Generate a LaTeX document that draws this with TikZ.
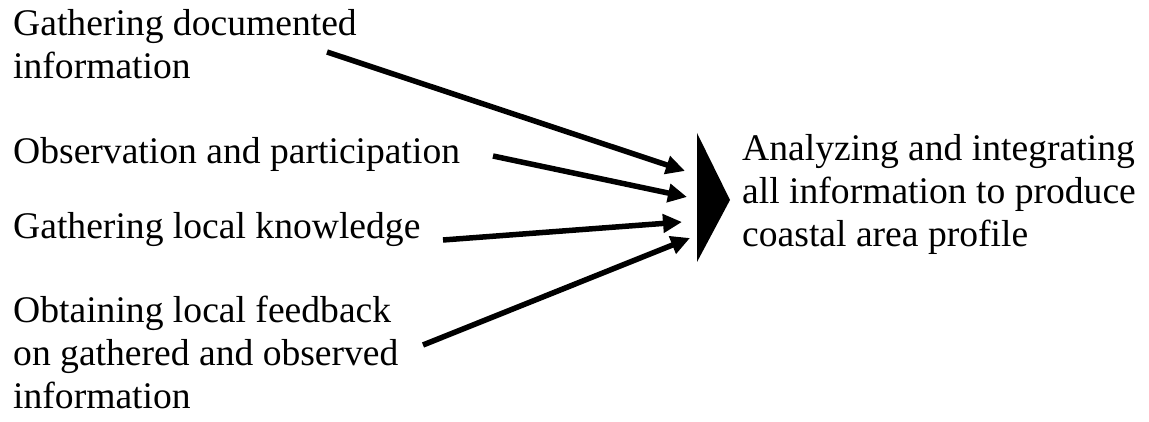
\documentclass[tikz,border=0pt]{standalone}
\usepackage{fontspec}
\setmainfont{Liberation Serif}
\usepackage{tikz}
\usetikzlibrary{arrows.meta, positioning}
\tikzset{
  lbl/.style={anchor=north west, inner sep=0pt, align=left, font=\fontsize{37.6}{43}\selectfont},
  feed/.style={line width=5.5pt, -{Triangle[length=19pt,width=18pt]}}
}

\begin{document}
\begin{tikzpicture}[x=1pt, y=-1pt]
  \useasboundingbox (0,0) rectangle (1149,422);
  % sources
  \node[lbl] (docs) at (13,9) {Gathering documented\\information};
  \node[lbl] (obs) at (13,137) {Observation and participation};
  \node[lbl] (local) at (13,212) {Gathering local knowledge};
  \node[lbl] (fback) at (13,296) {Obtaining local feedback\\on gathered and observed\\information};
  % result
  \fill (697,133) -- (730,200) -- (697,262) -- cycle;
  \node[lbl] (profile) at (742,134) {Analyzing and integrating\\all information to produce\\coastal area profile};
  % connectors
  \coordinate (s1) at (327,52);  \coordinate (e1) at (685,171);
  \coordinate (s2) at (493,156); \coordinate (e2) at (687,197);
  \coordinate (s3) at (443,240); \coordinate (e3) at (682,222);
  \coordinate (s4) at (423,345); \coordinate (e4) at (690,238);
  \draw[feed] (s1) -- (e1);
  \draw[feed] (s2) -- (e2);
  \draw[feed] (s3) -- (e3);
  \draw[feed] (s4) -- (e4);
\end{tikzpicture}
\end{document}
